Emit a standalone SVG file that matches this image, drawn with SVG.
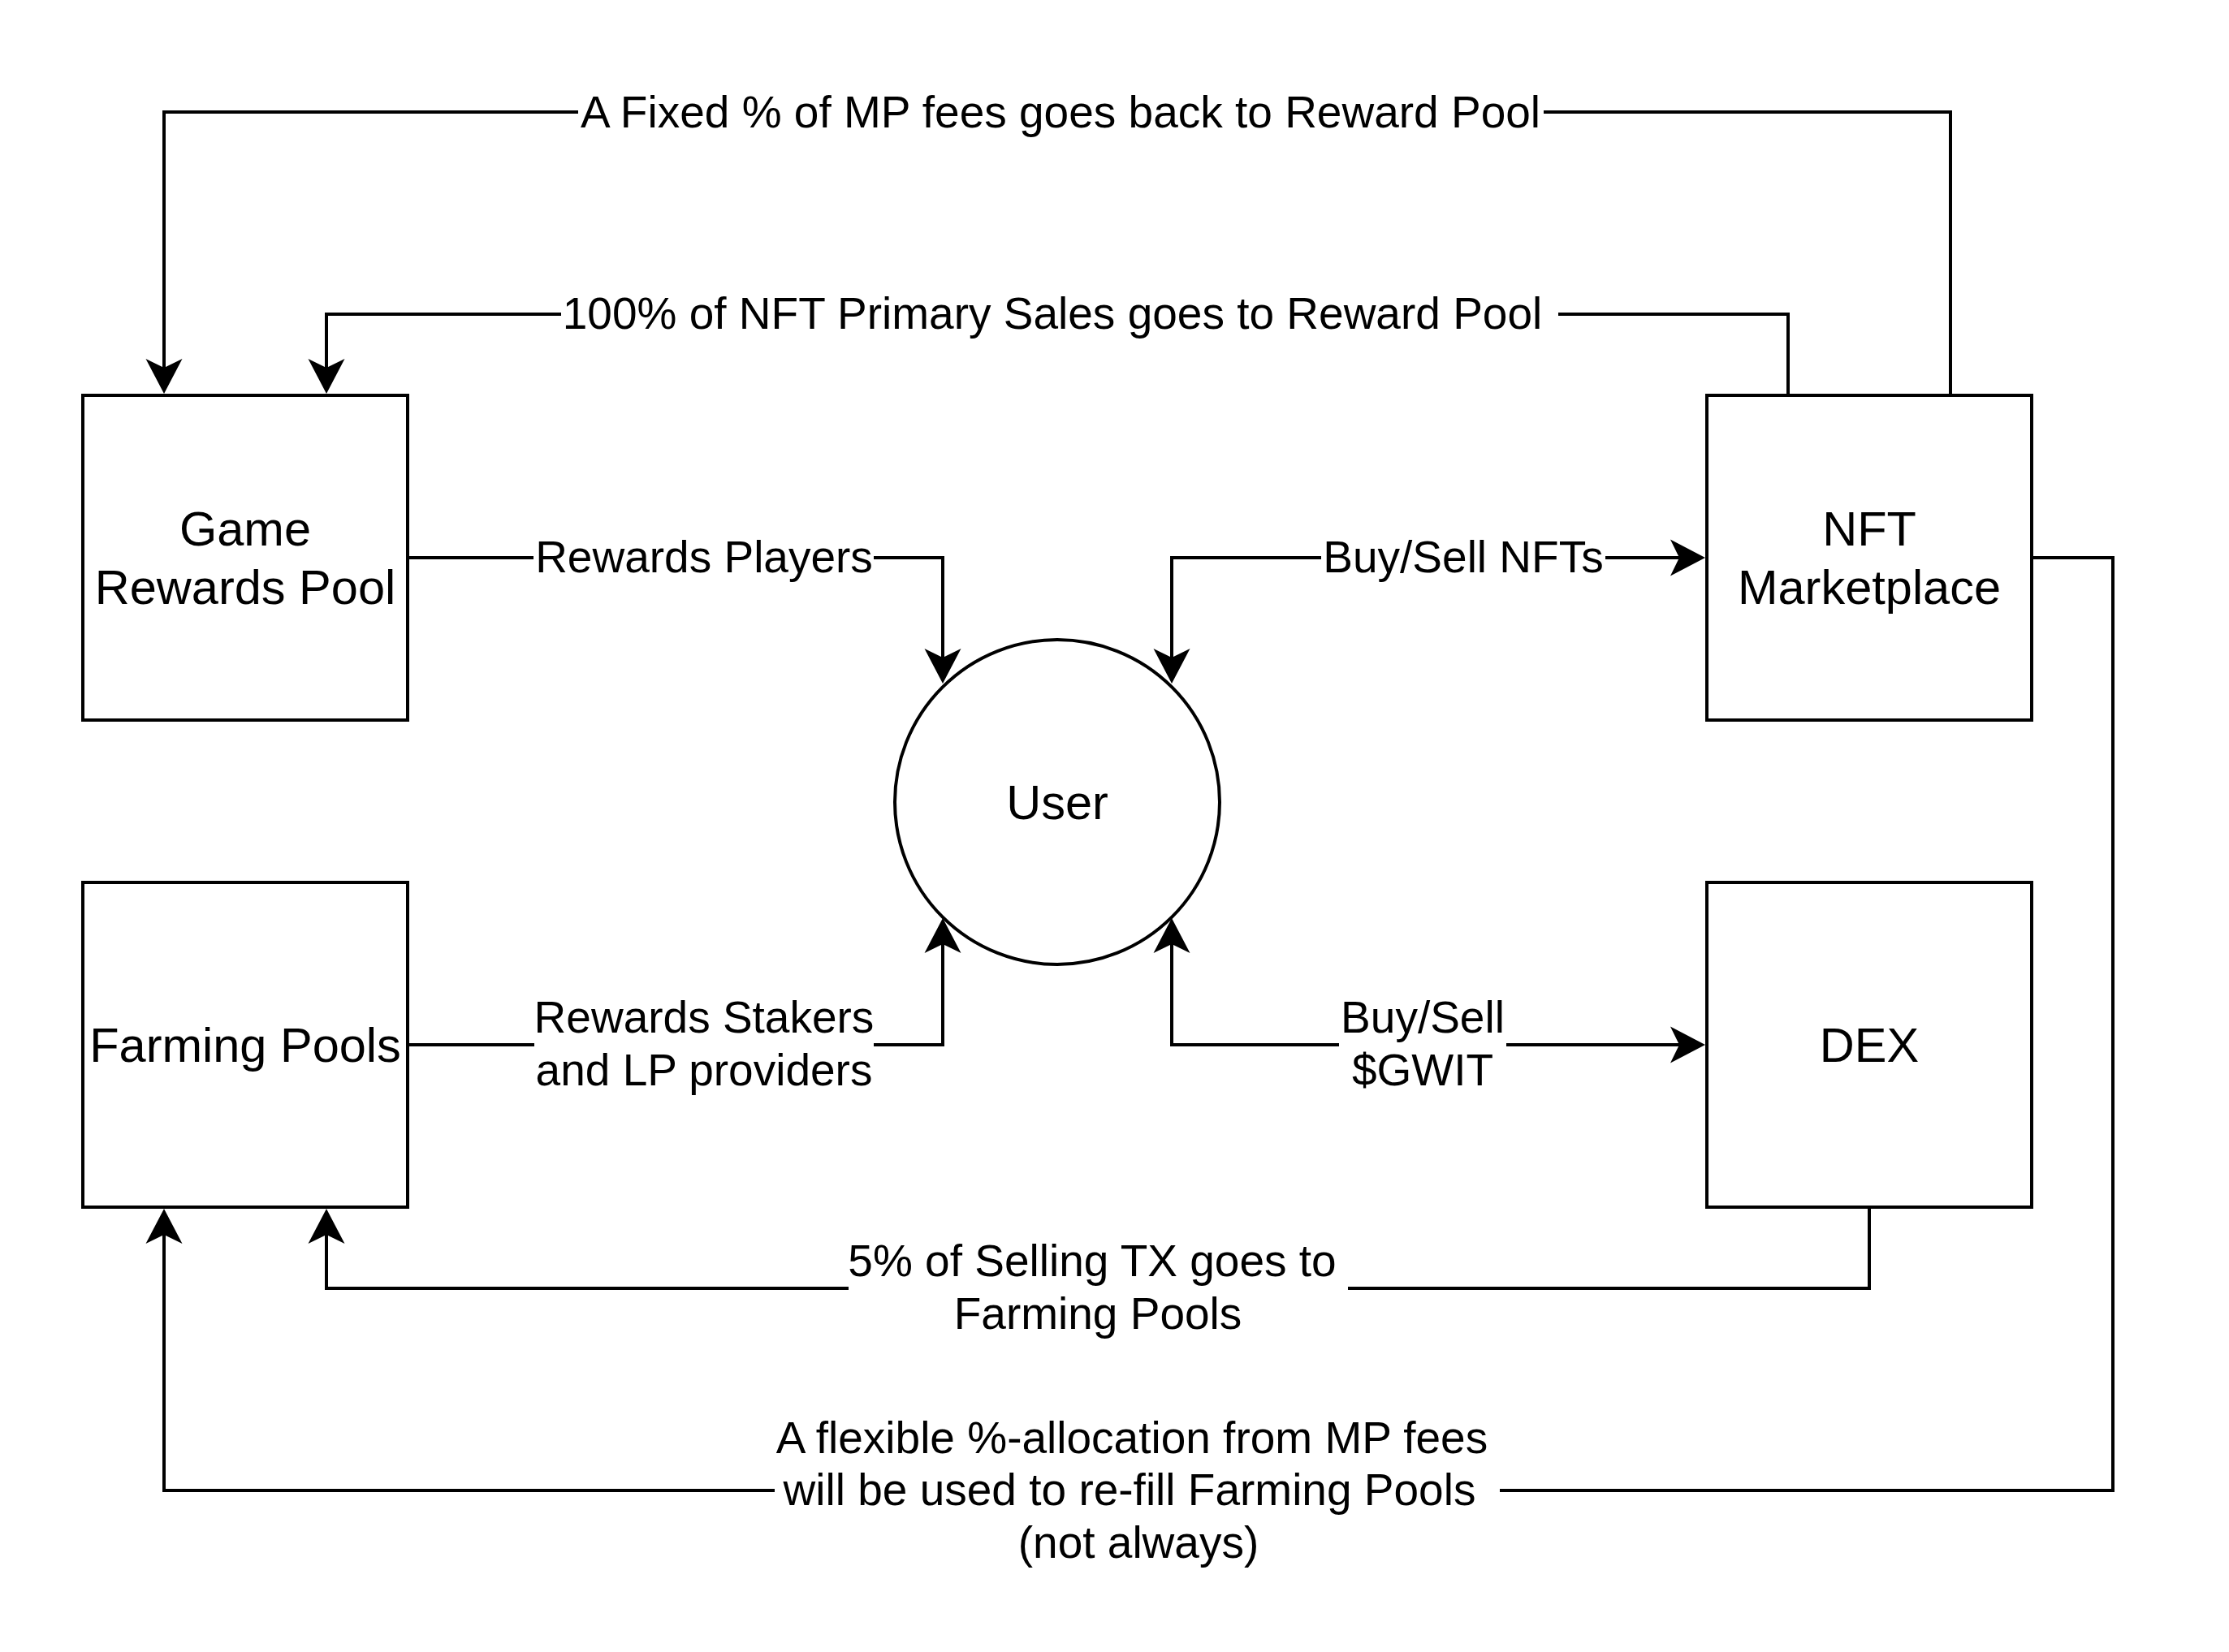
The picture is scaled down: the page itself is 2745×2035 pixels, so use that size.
<svg xmlns="http://www.w3.org/2000/svg" width="2745" height="2035" viewBox="0 0 2745 2035">
<style>
.node{fill:#fff;stroke:#000;stroke-width:4}
.edge{fill:none;stroke:#000;stroke-width:4}
.nt{font-family:"Liberation Sans",Helvetica,Arial,sans-serif;font-size:59.5px;fill:#000;text-anchor:middle}
.lt{font-family:"Liberation Sans",Helvetica,Arial,sans-serif;font-size:55px;fill:#000;text-anchor:middle}
.bg{fill:#fff;stroke:none}
</style>
<defs>
<marker id="arr" markerUnits="userSpaceOnUse" viewBox="-45 -25 50 50" refX="-32" refY="0" markerWidth="50" markerHeight="50" orient="auto-start-reverse">
<path d="M0,0 L-43,-22.5 L-32,0 L-43,22.5 Z" fill="#000"/>
</marker>
</defs>
<rect width="2745" height="2035" fill="#fff"/>
<g id="connectors">
<path class="edge" d="M2402,487 V138 H202 V453" marker-end="url(#arr)"/>
<path class="edge" d="M2202,487 V387 H402 V453" marker-end="url(#arr)"/>
<path class="edge" d="M502,687 H1161 V810" marker-end="url(#arr)"/>
<path class="edge" d="M1443,810 V687 H2068" marker-start="url(#arr)" marker-end="url(#arr)"/>
<path class="edge" d="M502,1287 H1161 V1163" marker-end="url(#arr)"/>
<path class="edge" d="M1443,1163 V1287 H2068" marker-start="url(#arr)" marker-end="url(#arr)"/>
<path class="edge" d="M2302,1487 V1587 H402 V1521" marker-end="url(#arr)"/>
<path class="edge" d="M2502,687 H2602 V1836 H202 V1521" marker-end="url(#arr)"/>
<g id="edge-labels">
<rect class="bg" x="712" y="110" width="1189" height="60"/>
<text class="lt" x="1306" y="157">A Fixed % of MP fees goes back to Reward Pool</text>
<rect class="bg" x="691" y="358" width="1228" height="60"/>
<text class="lt" x="1296" y="405">100% of NFT Primary Sales goes to Reward Pool</text>
<rect class="bg" x="657" y="658" width="419" height="60"/>
<text class="lt" x="867" y="705">Rewards Players</text>
<rect class="bg" x="1627" y="658" width="350" height="60"/>
<text class="lt" x="1802" y="705">Buy/Sell NFTs</text>
<rect class="bg" x="658" y="1228" width="418" height="125"/>
<text class="lt" x="867" y="1272">Rewards Stakers</text>
<text class="lt" x="867" y="1337">and LP providers</text>
<rect class="bg" x="1649" y="1228" width="206" height="125"/>
<text class="lt" x="1752" y="1272">Buy/Sell</text>
<text class="lt" x="1752" y="1337">$GWIT</text>
<rect class="bg" x="1045" y="1528" width="615" height="125"/>
<text class="lt" x="1345" y="1572">5% of Selling TX goes to</text>
<text class="lt" x="1352" y="1637">Farming Pools</text>
<rect class="bg" x="954" y="1745" width="893" height="190"/>
<text class="lt" x="1394" y="1790">A flexible %-allocation from MP fees</text>
<text class="lt" x="1391" y="1854">will be used to re-fill Farming Pools</text>
<text class="lt" x="1402" y="1919">(not always)</text>
</g>
</g>
<g id="game-rewards-pool">
<rect class="node" x="102" y="487" width="400" height="400"/>
<text class="nt" x="302" y="672">Game</text>
<text class="nt" x="302" y="744">Rewards Pool</text>
</g>
<g id="nft-marketplace">
<rect class="node" x="2102" y="487" width="400" height="400"/>
<text class="nt" x="2302" y="672">NFT</text>
<text class="nt" x="2302" y="744">Marketplace</text>
</g>
<g id="user">
<circle class="node" cx="1302" cy="988" r="200"/>
<text class="nt" x="1302" y="1009">User</text>
</g>
<g id="farming-pools">
<rect class="node" x="102" y="1087" width="400" height="400"/>
<text class="nt" x="302" y="1308">Farming Pools</text>
</g>
<g id="dex">
<rect class="node" x="2102" y="1087" width="400" height="400"/>
<text class="nt" x="2302" y="1308">DEX</text>
</g>
</svg>
